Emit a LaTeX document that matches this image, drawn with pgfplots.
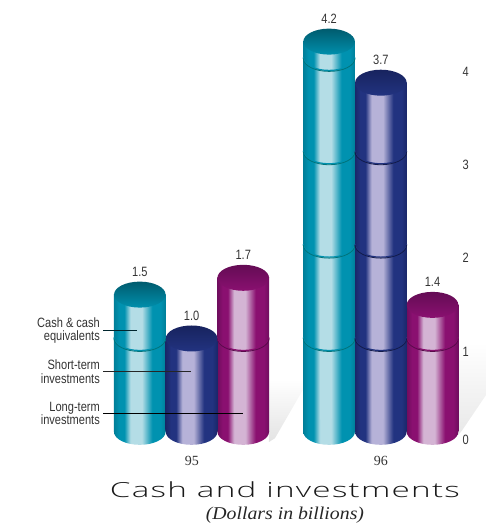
\documentclass[border=0pt]{standalone}
\usepackage{pgfplots}
\usepackage{fontspec}
\pgfplotsset{compat=1.18}
\setmainfont{Liberation Sans}
\newfontfamily\narrowf[FakeStretch=0.82]{Liberation Sans}
\newfontfamily\titlef[FakeStretch=1.6,LetterSpace=6]{Open Sans Light}
\newfontfamily\subf[FakeStretch=1.1]{Liberation Serif}
\newfontfamily\tickf{Liberation Serif}
\definecolor{cA}{HTML}{007F99}\definecolor{cB}{HTML}{0092B0}\definecolor{cC}{HTML}{B4DDE6}
\definecolor{nA}{HTML}{1A2769}\definecolor{nB}{HTML}{223380}\definecolor{nC}{HTML}{B6B2D8}
\definecolor{pA}{HTML}{6F0D5E}\definecolor{pB}{HTML}{8A1070}\definecolor{pC}{HTML}{D4B4D4}
\definecolor{cR}{HTML}{00737A}
\newcommand{\mkshade}[4]{%
 \pgfdeclarehorizontalshading{#1}{100bp}{%
  color(0bp)=(#2); color(25bp)=(#2); color(30bp)=(#3); color(35bp)=(#3); color(41bp)=(#4); color(52bp)=(#4); color(62bp)=(#3); color(70bp)=(#3); color(75bp)=(#2); color(100bp)=(#2)}}
\mkshade{cbody}{cA}{cB}{cC}
\mkshade{nbody}{nA}{nB}{nC}
\mkshade{pbody}{pA}{pB}{pC}
\pgfdeclareverticalshading{ctop}{100bp}{color(0bp)=(cB!85!cA); color(25bp)=(cB!85!cA); color(75bp)=(cA!72!black); color(100bp)=(cA!72!black)}
\pgfdeclareverticalshading{ntop}{100bp}{color(0bp)=(nB); color(25bp)=(nB); color(75bp)=(nA!90!black); color(100bp)=(nA!90!black)}
\pgfdeclareverticalshading{ptop}{100bp}{color(0bp)=(pB); color(25bp)=(pB); color(75bp)=(pA!90!black); color(100bp)=(pA!90!black)}
% marks: the data point is the front of the disc, the disc centre lies 13pt above
\newcommand{\mkmarks}[3]{%
 \pgfdeclareplotmark{#1cap}{\pgfpathellipse{\pgfpoint{0pt}{13pt}}{\pgfpoint{25.8pt}{0pt}}{\pgfpoint{0pt}{13pt}}\pgfshadepath{#1top}{0}\pgfusepath{discard}}%
 \pgfdeclareplotmark{#1base}{\pgfpathellipse{\pgfpoint{0pt}{13pt}}{\pgfpoint{25.8pt}{0pt}}{\pgfpoint{0pt}{13pt}}\pgfshadepath{#1body}{0}\pgfusepath{discard}}%
 \pgfdeclareplotmark{#1ring}{%
  \pgfsetlinewidth{1.2pt}\pgfsetstrokecolor{#2}%
  \pgfpathmoveto{\pgfpoint{-25.8pt}{14pt}}\pgfpatharc{180}{360}{25.8pt and 13pt}\pgfusepathqstroke
  \pgfsetlinewidth{0.8pt}\pgfsetstrokecolor{#3}%
  \pgfpathmoveto{\pgfpoint{-25.8pt}{13pt}}\pgfpatharc{180}{360}{25.8pt and 13pt}\pgfusepathqstroke}}
\mkmarks{c}{cB}{cR}
\mkmarks{n}{nB}{nA!70!black}
\mkmarks{p}{pB}{pA!80!black}
\pgfplotsset{
 bar/.style={ybar,bar width=51.7pt,/pgf/bar shift=0pt,draw=none,yshift=13pt,forget plot},
 disc/.style={only marks,mark=#1,mark size=26pt,forget plot}
}
\begin{document}
\begin{tikzpicture}
\begin{axis}[
 scale only axis,width=486pt,height=523pt,
 xmin=0,xmax=486,ymin=-0.835,ymax=4.764,
 axis line style={draw=none},axis on top,
 major tick length=0pt,clip=false,
 ytick={0.05,1,2,3,4},yticklabels={0,1,2,3,4},
 yticklabel pos=right,
 yticklabel style={anchor=center,xshift=-20pt,text=black!80,font=\narrowf\fontsize{13.5}{14}\selectfont},
 xtick={192,381},xticklabels={95,96},
 xticklabel style={anchor=center,yshift=62pt,text=black!80,font=\fontsize{14}{14}\selectfont\tickf},
]
% faint floor shadows
\addplot[draw=none,top color=white,bottom color=black!11,forget plot] coordinates {(269,0.70)(303,0.70)(303,0.59)(275,0.07)(269,0.03)} --cycle;
\addplot[draw=none,top color=white,bottom color=black!9,forget plot] coordinates {(458,1.1)(486,1.1)(486,0.53)(462,0.15)(458,0.10)} --cycle;
% 95
\addplot[bar,shading=cbody] coordinates {(139.8,1.47)};
\addplot[disc=cbase] coordinates {(139.8,0)};
\addplot[disc=cring] coordinates {(139.8,1)};
\addplot[disc=ccap] coordinates {(139.8,1.47)};
\addplot[bar,shading=pbody] coordinates {(243.3,1.65)};
\addplot[disc=pbase] coordinates {(243.3,0)};
\addplot[disc=pring] coordinates {(243.3,1)};
\addplot[disc=pcap] coordinates {(243.3,1.65)};
\addplot[bar,shading=nbody] coordinates {(191.6,1.0)};
\addplot[disc=nbase] coordinates {(191.6,0)};
\addplot[disc=ncap] coordinates {(191.6,1.0)};
% 96
\addplot[bar,shading=cbody] coordinates {(329.2,4.18)};
\addplot[disc=cbase] coordinates {(329.2,0)};
\addplot[disc=cring] coordinates {(329.2,1)(329.2,2)(329.2,3)(329.2,4)};
\addplot[disc=ccap] coordinates {(329.2,4.18)};
\addplot[bar,shading=pbody] coordinates {(432.7,1.36)};
\addplot[disc=pbase] coordinates {(432.7,0)};
\addplot[disc=pring] coordinates {(432.7,1)};
\addplot[disc=pcap] coordinates {(432.7,1.36)};
\addplot[bar,shading=nbody] coordinates {(381,3.74)};
\addplot[disc=nbase] coordinates {(381,0)};
\addplot[disc=nring] coordinates {(381,1)(381,2)(381,3)};
\addplot[disc=ncap] coordinates {(381,3.74)};
% value labels
\addplot[only marks,mark=none,forget plot,point meta=explicit symbolic,
 nodes near coords,
 every node near coord/.style={anchor=center,yshift=36pt,text=black!80,font=\narrowf\fontsize{13.5}{14}\selectfont}]
 table[meta=l] {
 x y l
 139.8 1.47 1.5
 191.6 1.00 1.0
 243.3 1.65 1.7
 329.2 4.18 4.2
 381 3.74 3.7
 432.7 1.36 1.4
 };
% leaders
\addplot[draw=black!70!cA,line width=0.7pt,forget plot] coordinates {(103,1.224)(137,1.224)};
\addplot[draw=black!85,line width=0.7pt,forget plot] coordinates {(103,0.782)(191,0.782)};
\addplot[draw=black,line width=0.7pt,forget plot] coordinates {(103,0.337)(243,0.337)};
\node[anchor=east,align=right,text=black!80,font=\narrowf\fontsize{13.5}{13.6}\selectfont,inner sep=0pt] at (axis cs:100,1.224) {Cash \& cash\\equivalents};
\node[anchor=east,align=right,text=black!80,font=\narrowf\fontsize{13.5}{13.6}\selectfont,inner sep=0pt] at (axis cs:100,0.782) {Short-term\\investments};
\node[anchor=east,align=right,text=black!80,font=\narrowf\fontsize{13.5}{13.6}\selectfont,inner sep=0pt] at (axis cs:100,0.337) {Long-term\\investments};
\node[text=black!90,font=\titlef\fontsize{20.8}{24}\selectfont,inner sep=0pt] at (axis cs:285,-0.48) {Cash and investments};
\node[text=black!85,font=\subf\itshape\fontsize{18}{20}\selectfont,inner sep=0pt] at (axis cs:285,-0.75) {(Dollars in billions)};
\end{axis}
\end{tikzpicture}
\end{document}
